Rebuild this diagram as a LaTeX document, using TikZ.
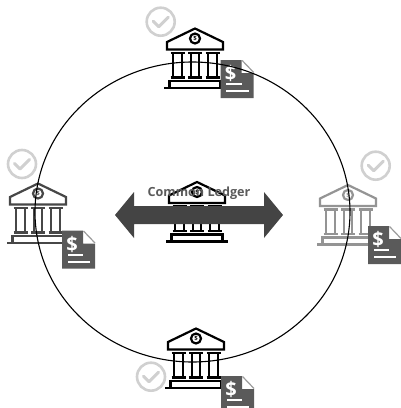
\documentclass[tikz,border=0pt]{standalone}
\usepackage{fontspec}
\setmainfont{Open Sans}
\definecolor{docgray}{HTML}{5A5A5A}
\definecolor{arrowgray}{HTML}{444444}
\definecolor{checkgray}{HTML}{D0D0D0}
\tikzset{
  x=1pt,y=-1pt,
  bankline/.style={line width=2.2pt,line join=miter},
  ringline/.style={line width=1.1pt,black},
  pics/bank/.style={code={
    \tikzset{every path/.style={draw=#1,bankline}}
    \path (0,0.5) -- (28,14) -- (28,21.5) -- (-28,21.5) -- (-28,14) -- cycle;
    \path (0,10.5) circle (5);
    \foreach \c in {-17.5,0,17.5}{
      \path (\c-7,25) -- (\c+7,25);
      \path (\c-4.2,26) -- (\c-4.2,48);
      \path (\c+4.2,26) -- (\c+4.2,48);
      \path (\c-7,49.5) -- (\c+7,49.5);
    }
    \path (-25.5,59.5) -- (-25.5,53) -- (25.5,53) -- (25.5,59.5);
    \path (-31,60) -- (31,60);
    \node[draw=none,text=#1,font=\fontsize{6}{6}\selectfont\bfseries,inner sep=0pt] at (0,10.5) {\$};
  }},
  pics/invoice/.style={code={
    \fill[docgray] (0,0) -- (21,0) -- (21,13) -- (33,13) -- (33,38) -- (0,38) -- cycle;
    \draw[docgray!60,line width=1.2pt] (21.5,0.5) -- (33,12.5);
    \node[text=white,font=\fontsize{20}{20}\selectfont\bfseries,inner sep=0pt] at (10,13.5) {\$};
    \fill[white] (5.5,23) rectangle (21,25.4);
    \fill[white] (5.5,30) rectangle (28,32.4);
  }},
  pics/okmark/.style={code={
    \draw[checkgray,line width=2.6pt] (0,0) circle (14);
    \draw[checkgray,line width=3pt,line cap=round,line join=round] (-7.5,-0.5) -- (-2,5) -- (7.5,-4.5);
  }},
  commontext/.style={text=docgray,font=\fontsize{12.6}{12.6}\selectfont\bfseries,inner sep=0pt}
}
\begin{document}
\begin{tikzpicture}
\useasboundingbox[fill=white] (0,0) rectangle (401,408);
\pic at (195,28) {bank=black};
\pic at (38,183) {bank={black!72}};
\pic at (348,184.5) {bank={black!42}};
\pic at (196,328) {bank=black};
\pic at (197,181.5) {bank=black};
\pic at (160.7,21.7) {okmark};
\pic at (22,164) {okmark};
\pic at (375.7,165.7) {okmark};
\pic at (151,376.7) {okmark};
\pic at (220.7,60) {invoice};
\pic at (62,230.5) {invoice};
\pic at (368,226) {invoice};
\pic at (221,376) {invoice};
\draw[ringline] (192.5,212) ellipse [x radius=157.5,y radius=150];
\fill[arrowgray] (115,215) -- (134,192) -- (134,206) -- (264,206) -- (264,192) -- (283,215) -- (264,238) -- (264,224) -- (134,224) -- (134,238) -- cycle;
\node[commontext] (ledger) at (199,193.5) {Common Ledger};
\end{tikzpicture}
\end{document}
